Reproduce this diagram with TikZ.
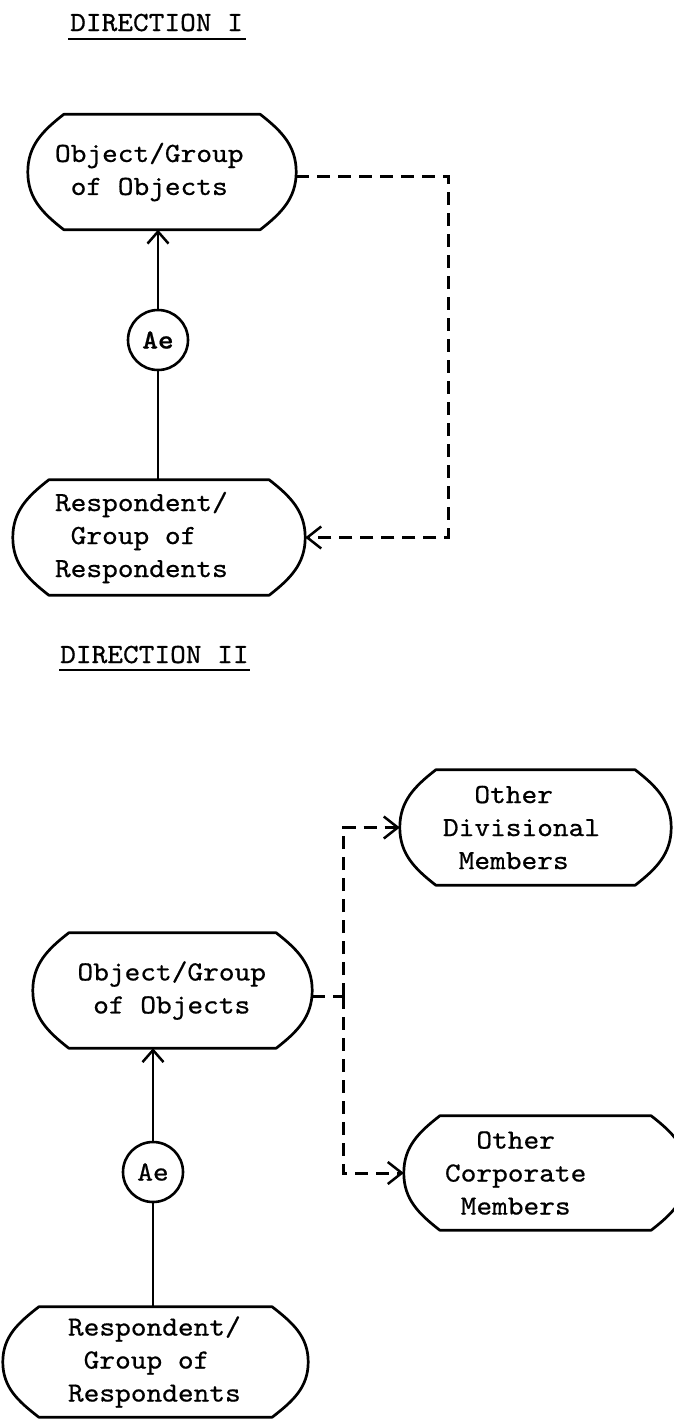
\documentclass[tikz,border=0pt]{standalone}
\usepackage{fontspec}
\newfontfamily\typer{lmmono10-regular.otf}[FakeStretch=1.08, FakeBold=0.6, BoldFont=lmmonolt10-bold.otf]
\usetikzlibrary{arrows.meta}
% typewriter face used for every label
\newcommand\tw{\typer\fontsize{27.7}{33}\selectfont}
% one typewriter cell of blank space
\newcommand\tsp{\hphantom{x}}
\tikzset{
  every node/.style={font=\tw, inner sep=0pt},
  capsule/.style={rectangle, align=left, minimum height=115pt},
  outline/.style={line width=2.7pt, line join=round},
  link/.style={line width=2.5pt},
  flow/.style={link, -{Straight Barb[length=12pt,width=21pt]}},
  dashlink/.style={line width=3pt, dash pattern=on 13pt off 8pt},
  dashflow/.style={dashlink, -{Straight Barb[length=14pt,width=22pt,line width=2.5pt]}},
  score/.style={line width=2.8pt},
  ae/.style={circle, draw, line width=2.6pt, minimum size=60pt},
}
% flat-topped outline with bowed ends around a capsule node
\newcommand\pill[1]{%
  \draw[outline] ([xshift=36pt]#1.north west) -- ([xshift=-36pt]#1.north east)
    to[out=-38,in=90] (#1.east) to[out=-90,in=38] ([xshift=-36pt]#1.south east)
    -- ([xshift=36pt]#1.south west) to[out=142,in=-90] (#1.west)
    to[out=90,in=-142] ([xshift=36pt]#1.north west) -- cycle;}
\begin{document}
\begin{tikzpicture}[x=1pt,y=1pt]
\fill[white] (0,0) rectangle (674,-1419);
\useasboundingbox (0,0) rectangle (674,-1419);

% ---------------- Direction I ----------------
\node[anchor=base west] (t1) at (70,-31) {DIRECTION\tsp I};
\draw[score] ([shift={(-2pt,-8pt)}]t1.base west) -- ([shift={(3pt,-8pt)}]t1.base east);

\node[capsule, minimum width=268pt, text width=214pt] (o1) at (162,-172)
  {Object/Group\\\tsp of\tsp Objects};
\node[ae, font=\tw\bfseries] (ae1) at (158,-340) {Ae};
\node[capsule, minimum width=292pt, text width=208pt] (r1) at (159,-537.5)
  {Respondent/\\\tsp Group\tsp of\\Respondents};
\pill{o1}
\pill{r1}

\draw[flow] (ae1.north) -- (ae1.north |- o1.south);
\draw[link] (ae1.south) -- (ae1.south |- r1.north);
\coordinate (j1) at (448,-537.5);
\draw[dashflow] ([yshift=-4pt]o1.east) -| (j1) -- (r1.east);

% ---------------- Direction II ----------------
\node[anchor=base west] (t2) at (60,-663) {DIRECTION\tsp II};
\draw[score] ([shift={(-1pt,-7pt)}]t2.base west) -- ([shift={(1pt,-7pt)}]t2.base east);

\node[capsule, minimum width=279pt, text width=190pt] (o2) at (172.5,-990.5)
  {Object/Group\\\tsp of\tsp Objects};
\node[ae] (ae2) at (153,-1172) {Ae};
\node[capsule, minimum width=305pt, minimum height=110pt, text width=175pt] (r2) at (155.5,-1362)
  {Respondent/\\\tsp Group\tsp of\\Respondents};
\node[capsule, minimum width=271pt, text width=185pt] (div) at (535.5,-827.5)
  {\tsp\tsp Other\\Divisional\\\tsp Members};
\node[capsule, minimum width=283pt, minimum height=114pt, text width=201pt] (corp) at (545.5,-1173)
  {\tsp\tsp Other\\Corporate\\\tsp Members};
\pill{o2}
\pill{r2}
\pill{div}
\pill{corp}

\draw[flow] (ae2.north) -- (ae2.north |- o2.south);
\draw[link] (ae2.south) -- (ae2.south |- r2.north);
\coordinate (j2) at (343,-996);
\draw[dashlink] ([yshift=-5.5pt]o2.east) -- (j2);
\draw[dashflow] (j2) |- (div.west);
\draw[dashflow] (j2) |- (corp.west);
\end{tikzpicture}
\end{document}
